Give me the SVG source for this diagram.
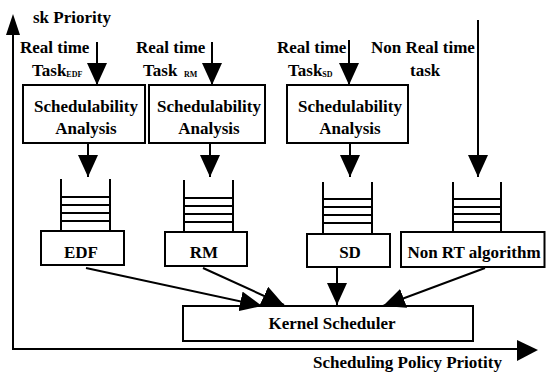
<svg xmlns="http://www.w3.org/2000/svg" width="546" height="376" viewBox="0 0 546 376">
  <style>
    .box { fill: #fff; stroke: #000; stroke-width: 2; }
    .ln { fill: none; stroke: #000; stroke-width: 2; }
    .t { font-family: "Liberation Serif", "Times New Roman", serif; font-weight: bold; font-size: 17px; fill: #000; }
    .c { text-anchor: middle; }
    .sub { font-size: 8px; }
  </style>
  <defs>
    <marker id="head" markerUnits="userSpaceOnUse" markerWidth="22" markerHeight="20" refX="22" refY="10" orient="auto">
      <path d="M0,0 L22,10 L0,20 Z" fill="#000"/>
    </marker>
  </defs>
  <rect width="546" height="376" fill="#fff"/>

  <!-- axes -->
  <g id="axes">
    <path class="ln" d="M13,34 V349 H518"/>
    <path d="M6,35 L13,14 L20,35 Z" fill="#000"/>
    <path d="M517,340 L538,350 L517,361 Z" fill="#000"/>
    <text class="t" x="33" y="23">sk Priority</text>
    <text class="t" x="313" y="368">Scheduling Policy Priotity</text>
  </g>

  <!-- task inputs -->
  <g id="task-edf">
    <text class="t" x="20" y="53">Real time</text>
    <text class="t" x="32" y="76">Task<tspan class="sub" dy="1">EDF</tspan></text>
  </g>
  <g id="task-rm">
    <text class="t" x="136" y="53">Real time</text>
    <text class="t" x="143" y="76">Task</text>
    <text class="t sub" x="184" y="77">RM</text>
  </g>
  <g id="task-sd">
    <text class="t" x="277" y="53">Real time</text>
    <text class="t" x="288" y="76">Task<tspan class="sub" dy="1">SD</tspan></text>
  </g>
  <g id="task-nonrt">
    <text class="t" x="371" y="53">Non Real time</text>
    <text class="t" x="410" y="76">task</text>
  </g>

  <!-- schedulability analysis -->
  <g id="sa-edf">
    <rect class="box" x="23" y="85" width="122" height="58"/>
    <text class="t c" x="86" y="112">Schedulability</text>
    <text class="t c" x="86" y="134">Analysis</text>
  </g>
  <g id="sa-rm">
    <rect class="box" x="149" y="85" width="116" height="58"/>
    <text class="t c" x="209" y="112">Schedulability</text>
    <text class="t c" x="209" y="134">Analysis</text>
  </g>
  <g id="sa-sd">
    <rect class="box" x="287" y="85" width="121" height="58"/>
    <text class="t c" x="350" y="112">Schedulability</text>
    <text class="t c" x="350" y="134">Analysis</text>
  </g>

  <!-- queues -->
  <g id="queue-edf">
    <path class="ln" d="M61,179 V232 M110,179 V232 M61,197 H110 M61,205 H110 M61,213 H110 M61,221 H110"/>
  </g>
  <g id="queue-rm">
    <path class="ln" d="M184,180 V232 M233,180 V232 M184,198 H233 M184,206 H233 M184,214 H233 M184,222 H233"/>
  </g>
  <g id="queue-sd">
    <path class="ln" d="M323,182 V234 M372,182 V234 M323,199 H372 M323,207 H372 M323,215 H372 M323,223 H372"/>
  </g>
  <g id="queue-nonrt">
    <path class="ln" d="M453,182 V232 M501,182 V232 M453,199 H501 M453,207 H501 M453,214 H501 M453,222 H501"/>
  </g>

  <!-- policy boxes -->
  <g id="edf">
    <rect class="box" x="41" y="231" width="83" height="34"/>
    <text class="t c" x="81" y="258">EDF</text>
  </g>
  <g id="rm">
    <rect class="box" x="165" y="232" width="82" height="34"/>
    <text class="t c" x="204" y="258">RM</text>
  </g>
  <g id="sd">
    <rect class="box" x="307" y="234" width="83" height="33"/>
    <text class="t c" x="350" y="258">SD</text>
  </g>
  <g id="nonrt">
    <rect class="box" x="401" y="232" width="143.5" height="35"/>
    <text class="t c" x="474" y="258">Non RT algorithm</text>
  </g>

  <!-- kernel -->
  <g id="kernel">
    <rect class="box" x="183" y="306" width="290" height="35"/>
    <text class="t c" x="332" y="329">Kernel Scheduler</text>
  </g>

  <!-- connectors -->
  <g id="connectors" class="ln" marker-end="url(#head)">
    <path d="M97,42 V85"/>
    <path d="M212,42 V85"/>
    <path d="M349,40 V85"/>
    <path d="M88,143 V177"/>
    <path d="M210,143 V177"/>
    <path d="M350,143 V177"/>
    <path d="M478,20 V177"/>
    <path d="M86,268 L262,306"/>
    <path d="M203,268 L284,305"/>
    <path d="M337,267 V305"/>
    <path d="M485,268 L383,306"/>
  </g>
</svg>
